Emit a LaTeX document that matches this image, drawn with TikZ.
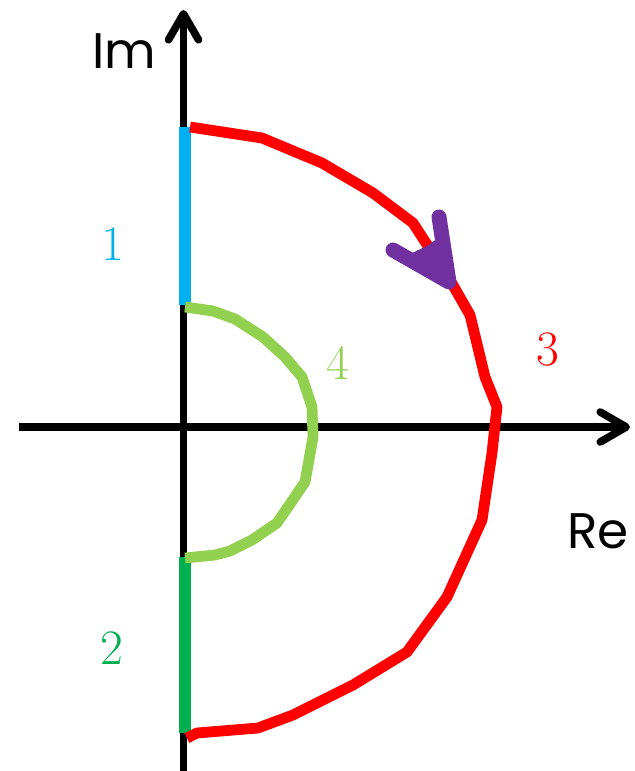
\documentclass[tikz,border=0pt]{standalone}
\usepackage{fontspec}
\usepackage{xcolor}
\usepackage{tikz}
\usetikzlibrary{arrows.meta,positioning}
\newfontfamily\axisfont{Poppins}
\definecolor{segone}{HTML}{00B0F0}
\definecolor{segtwo}{HTML}{00B050}
\definecolor{segthree}{HTML}{FF0000}
\definecolor{segfour}{HTML}{92D050}
\definecolor{dirmark}{HTML}{7030A0}

\begin{document}
\begin{tikzpicture}[x=0.5pt,y=-0.5pt,
  axis/.style={draw=black,line width=3.8pt,
               -{Straight Barb[round,length=13pt,width=15pt]}},
  seg/.style={line width=5.8pt},
  curve/.style={line width=5.4pt,line join=round},
  lbl/.style={font=\fontsize{24.8}{26}\selectfont,inner sep=0pt},
  axlbl/.style={font=\axisfont\fontsize{25}{27}\selectfont,inner sep=0pt}]
\useasboundingbox (0,0) rectangle (635,771);
% axes
\coordinate (o) at (183.5,427);
\coordinate (xl) at (19,427);
\coordinate (xr) at (630,427);
\coordinate (yb) at (183.5,771);
\coordinate (yt) at (183.5,10);
\draw[axis] (xl)--(xr);
\draw[axis] (yb)--(yt);
\node[axlbl] (im) at (124,51) {Im};
\node[axlbl] (re) at (598,531) {Re};
% pieces of the contour
\draw[seg,segone] (185,127)--(185,305);
\draw[seg,segtwo] (185,557)--(185,733);
\draw[curve,segthree] (190,127)--(262,138)--(322,163)--(373,193)--(413,223)
  --(450,280)--(470,315)--(485,377)--(497,407)--(492,453)--(482,520)
  --(447,597)--(407,652)--(353,685)--(293,715)--(258,728)--(197,733)--(187,738);
\draw[curve,segfour] (185,307)--(213,311)--(235,319)--(263,337)--(285,357)
  --(302,377)--(312,407)--(313,437)--(305,482)--(277,523)--(252,540)
  --(230,551)--(215,555)--(185,558);
% direction mark
\fill[dirmark] (449,282)--(410,254)--(427,246)--(441,236)--cycle;
\draw[dirmark,line width=7.5pt,line cap=round,line join=round]
  (393,250)--(449,282)--(439,217);
% labels
\node[lbl,segone] (one) at (113,244) {1};
\node[lbl,segtwo] (two) at (112,648) {2};
\node[lbl,segthree] (three) at (548,349) {3};
\node[lbl,segfour] (four) at (338,363) {4};
\end{tikzpicture}
\end{document}
